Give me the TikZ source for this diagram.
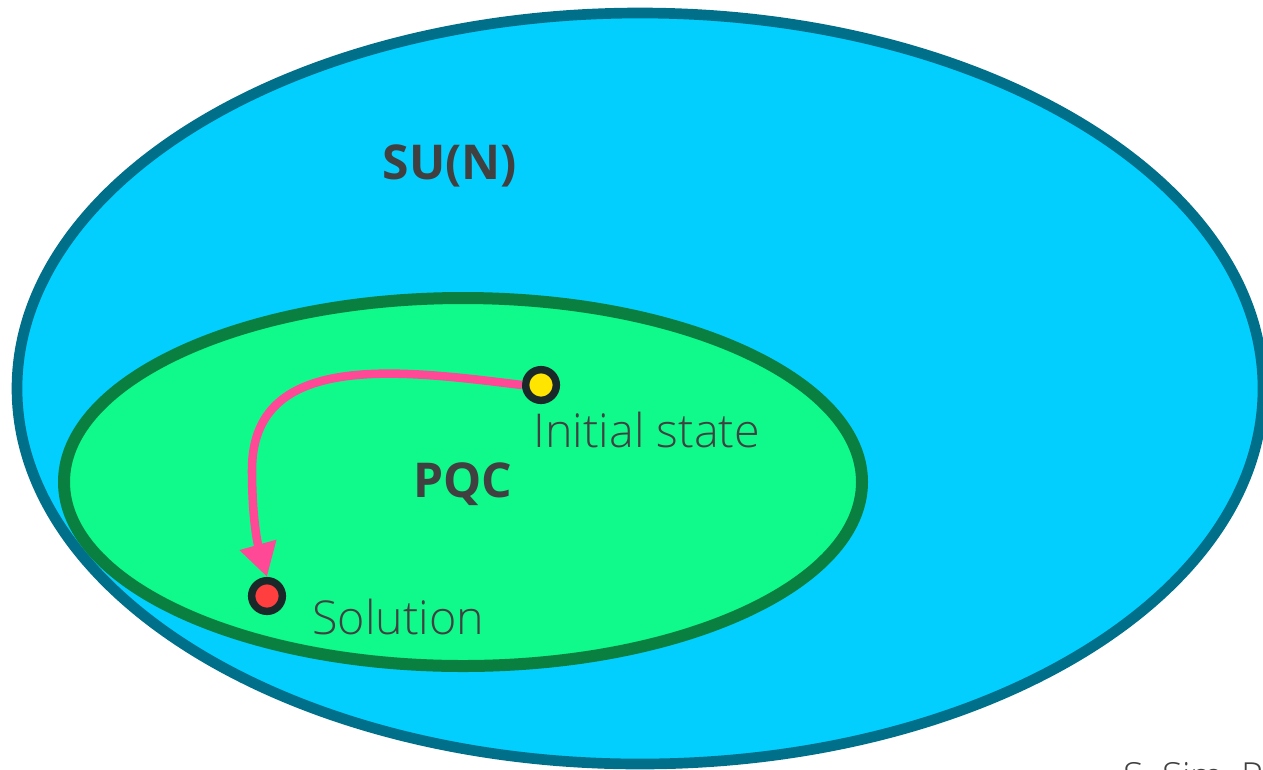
\documentclass[tikz,border=0pt]{standalone}
\usepackage{fontspec}
\setmainfont{Open Sans}
\newfontfamily\lightfont{Open Sans Light}
\usetikzlibrary{arrows.meta}

\definecolor{sunfill}{RGB}{3,207,255}
\definecolor{sunline}{RGB}{0,111,138}
\definecolor{pqcfill}{RGB}{16,250,140}
\definecolor{pqcline}{RGB}{10,128,64}
\definecolor{pathpink}{RGB}{255,73,150}
\definecolor{dotline}{RGB}{25,40,40}
\definecolor{startyellow}{RGB}{255,229,0}
\definecolor{endred}{RGB}{255,63,63}
\definecolor{txtgray}{RGB}{64,64,64}

\begin{document}
\begin{tikzpicture}[
  x=0.75pt, y=0.75pt,
  dot/.style={circle, draw=dotline, line width=5.6pt, inner sep=0pt, minimum size=23pt},
  setname/.style={text=txtgray, font=\bfseries, inner sep=0pt},
  lbl/.style={text=txtgray, font=\lightfont\fontsize{35}{40}\selectfont, inner sep=0pt, anchor=base west},
  flow/.style={pathpink, line width=6.4pt, -{Triangle[length=25pt, width=27pt]}}
]
  \useasboundingbox (0,0) rectangle (1263,-769);

  % ==========================================
  % 1. CONJUNTOS (elipses al fondo)
  % ==========================================

  % SU(N)
  \draw[sunline, fill=sunfill, line width=8pt]
    (640,-388.5) ellipse [x radius=623, y radius=375.5];
  \node[setname, font=\bfseries\fontsize{36}{40}\selectfont] (sun) at (450,-166) {SU(N)};

  % PQC
  \draw[pqcline, fill=pqcfill, line width=9pt]
    (463,-482) ellipse [x radius=399, y radius=184];
  \node[setname, font=\bfseries\fontsize{36}{40}\selectfont] (pqc) at (463,-484) {PQC};

  % ==========================================
  % 2. ESTADOS Y RECORRIDO
  % ==========================================
  \node[dot, fill=startyellow] (init) at (541,-385) {};
  \node[dot, fill=endred] (sol) at (267,-596) {};

  \draw[flow] (init.west) .. controls (400,-370) and (252,-350) .. (252,-470)
    .. controls (252,-520) and (258,-545) .. (sol.north);

  \node[lbl] (initlbl) at (533,-447) {Initial state};
  \node[lbl] (sollbl) at (312,-634) {Solution};

  % referencia (cortada)
  \node[lbl, font=\lightfont\fontsize{28}{32}\selectfont] (ref) at (1123,-789) {S. Sim, P. D. Johnson, A. Aspuru-Guzik};

\end{tikzpicture}
\end{document}
